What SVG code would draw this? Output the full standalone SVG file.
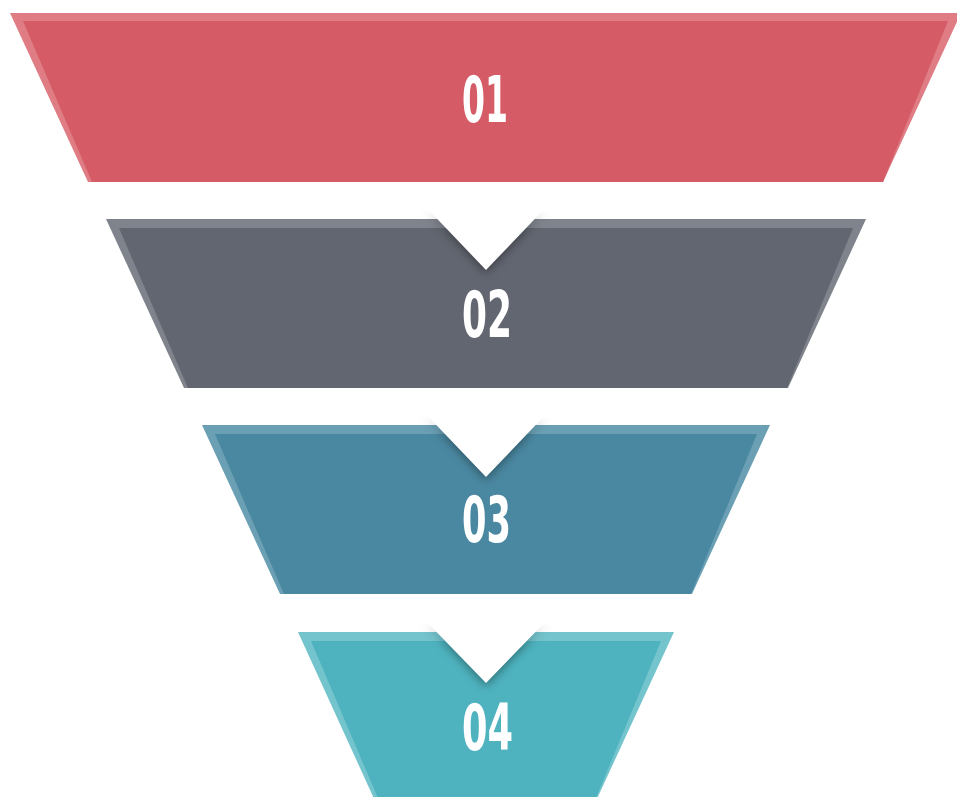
<svg xmlns="http://www.w3.org/2000/svg" width="957" height="797" viewBox="0 0 957 797">
<defs>
<style>
.lbl{font-family:"Liberation Sans Narrow","DejaVu Sans Condensed","Liberation Sans",sans-serif;font-weight:bold;font-size:64px;fill:#ffffff;text-anchor:middle}
.notch{fill:#ffffff}
.nsh{fill:#000000;fill-opacity:0.38;filter:url(#blur);mask:url(#fade)}
</style>
<filter id="blur" x="-30%" y="-30%" width="160%" height="170%">
<feGaussianBlur stdDeviation="5"/>
</filter>
<linearGradient id="fg" x1="0" y1="0" x2="0" y2="1">
<stop offset="0" stop-color="#000"/>
<stop offset="0.05" stop-color="#000"/>
<stop offset="0.3" stop-color="#fff"/>
<stop offset="1" stop-color="#fff"/>
</linearGradient>
<mask id="fade" maskUnits="objectBoundingBox" maskContentUnits="objectBoundingBox" x="-0.5" y="-0.5" width="2" height="2">
<rect x="-0.5" y="0" width="2" height="1.5" fill="url(#fg)"/>
</mask>
</defs>
<rect width="957" height="797" fill="#ffffff"/>
<g id="band1">
<polygon points="10,13 961,13 883,182 88,182" fill="#DF7C84"/>
<polygon points="23,21 948,21 883,182 92,182" fill="#D55C66"/>
<text class="lbl" x="485" y="122" textLength="46" lengthAdjust="spacingAndGlyphs">01</text>
</g>
<g id="band2">
<polygon points="106,219 866,219 788,388 184,388" fill="#7F838C"/>
<polygon points="119,228 853,228 787,388 188,388" fill="#626670"/>
<text class="lbl" x="487" y="337" textLength="50" lengthAdjust="spacingAndGlyphs">02</text>
</g>
<g id="band3">
<polygon points="202,425 770,425 692,594 280,594" fill="#6A9FB4"/>
<polygon points="215,434 757,434 691,594 284,594" fill="#4A88A1"/>
<text class="lbl" x="486.5" y="542" textLength="49" lengthAdjust="spacingAndGlyphs">03</text>
</g>
<g id="band4">
<polygon points="298,632 674,632 595,803 376,803" fill="#74C4CD"/>
<polygon points="311,641 661,641 594,803 380,803" fill="#4EB3BF"/>
<text class="lbl" x="487.5" y="750" textLength="51" lengthAdjust="spacingAndGlyphs">04</text>
</g>
<g id="connectors">
<polygon class="nsh" points="422,205 550,205 486,273"/>
<polygon class="notch" points="422,203 550,203 486,270"/>
<polygon class="nsh" points="421,411 551,411 486,480"/>
<polygon class="notch" points="421,409 551,409 486,477"/>
<polygon class="nsh" points="421,618 551,618 486,686"/>
<polygon class="notch" points="421,616 551,616 486,683"/>
</g>
</svg>
